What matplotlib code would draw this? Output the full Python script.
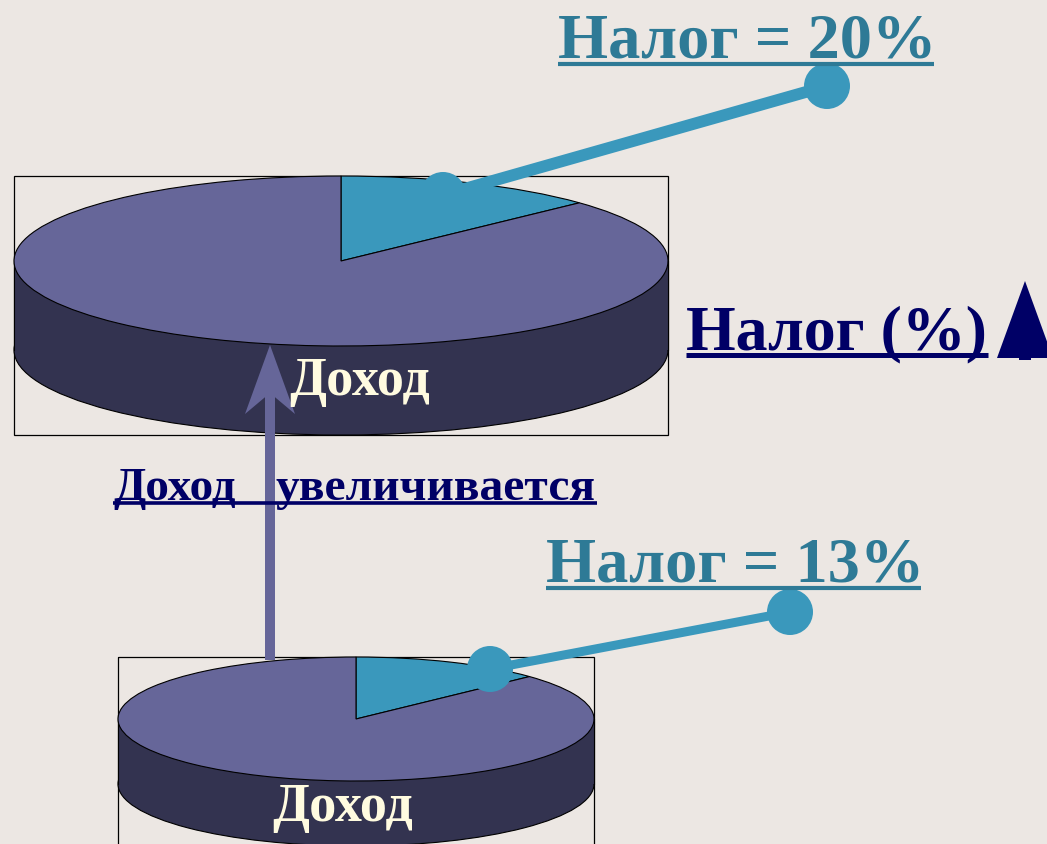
import matplotlib
matplotlib.use("Agg")
from matplotlib import pyplot as plt
from matplotlib.patches import Ellipse, Polygon, Rectangle, Circle

W, H = 1047, 844

# shares of the slice as drawn in both discs
pie_values = [13, 87]
tax_labels = ["Налог = 20%", "Налог = 13%"]
income_label = "Доход"
arrow_labels = ["Доход", "увеличивается"]
axis_label = "Налог (%)"

BG = "#ECE7E3"
PURPLE = "#666699"
DARK = "#333350"
TEAL = "#3A98BC"
TEAL_TEXT = "#2E7A96"
NAVY = "#000066"
CREAM = "#FFFBE0"

plt.rcParams["font.family"] = ["Liberation Serif", "DejaVu Serif"]


def pixel_axes(fig, zorder):
    ax = fig.add_axes([0, 0, 1, 1], zorder=zorder)
    ax.set_xlim(0, W)
    ax.set_ylim(H, 0)
    ax.axis("off")
    ax.patch.set_alpha(0)
    return ax


def draw_disc(fig, back, box, cx, cy, rx, ry, depth):
    """box - (left, top, right, bottom) of the thin frame, the rest is the disc in pixels"""
    back.add_patch(Rectangle((box[0], box[1]), box[2] - box[0], box[3] - box[1],
                             facecolor="none", edgecolor="black", lw=0.9, clip_on=True))
    # the side of the disc
    back.add_patch(Ellipse((cx, cy + depth), 2 * rx, 2 * ry, facecolor=DARK, edgecolor="black", lw=0.8))
    back.add_patch(Rectangle((cx - rx, cy), 2 * rx, depth, facecolor=DARK, edgecolor="none"))
    back.plot([cx - rx, cx - rx], [cy, cy + depth], color="black", lw=0.8)
    back.plot([cx + rx, cx + rx], [cy, cy + depth], color="black", lw=0.8)
    # top of the disc is a real pie, squeezed by its axes
    pie_ax = fig.add_axes([(cx - rx) / W, 1 - (cy + ry) / H, 2 * rx / W, 2 * ry / H], zorder=2)
    pie_ax.pie(pie_values, colors=[TEAL, PURPLE], startangle=90, counterclock=False, radius=1,
               wedgeprops={"edgecolor": "black", "linewidth": 0.8})
    pie_ax.set_aspect("auto")
    pie_ax.set_xlim(-1, 1)
    pie_ax.set_ylim(-1, 1)
    pie_ax.patch.set_alpha(0)
    for w in pie_ax.patches:
        w.set_clip_on(False)


def underlined(ax, x0, x1, y_base, text, size, color, y_line, lw):
    ax.text(x0, y_base, text, fontsize=size, fontweight="bold", color=color, ha="left", va="baseline")
    ax.plot([x0, x1], [y_line, y_line], color=color, lw=lw, solid_capstyle="butt")


def leader(ax, x0, y0, x1, y1, lw):
    ax.plot([x0, x1], [y0, y1], color=TEAL, lw=lw, solid_capstyle="butt")
    ax.add_patch(Circle((x0, y0), 23, color=TEAL, lw=0))
    ax.add_patch(Circle((x1, y1), 23, color=TEAL, lw=0))


fig = plt.figure(figsize=(W / 100, H / 100), dpi=100, facecolor=BG)
back = pixel_axes(fig, 1)
front = pixel_axes(fig, 3)

draw_disc(fig, back, (14, 176, 668, 435), 341, 261, 327, 85, 89)
draw_disc(fig, back, (118, 657, 594, 900), 356, 719, 238, 62, 65)

leader(front, 443, 195, 827, 86, 8.5)
leader(front, 490, 669, 790, 612, 6.5)

underlined(front, 558, 934, 57, tax_labels[0], 46.4, TEAL_TEXT, 64, 3)
underlined(front, 546, 921, 581, tax_labels[1], 46.4, TEAL_TEXT, 588, 3)
underlined(front, 686, 988, 349, axis_label, 46, NAVY, 355, 3.6)
underlined(front, 113, 597, 500, arrow_labels[0], 34, NAVY, 503, 2.6)
front.text(276, 500, arrow_labels[1], fontsize=34.2, fontweight="bold", color=NAVY, ha="left", va="baseline")

front.text(289, 395, income_label, fontsize=39, fontweight="bold", color=CREAM, ha="left", va="baseline")
front.text(272, 821, income_label, fontsize=39, fontweight="bold", color=CREAM, ha="left", va="baseline")

# arrow from the small disc to the big one
front.add_patch(Rectangle((265, 385), 10, 275, facecolor=PURPLE, edgecolor="none"))
front.add_patch(Polygon([(270, 345), (295, 414), (270, 393), (245, 414)], closed=True,
                        facecolor=PURPLE, edgecolor="none"))

# up arrow next to the axis label
front.add_patch(Polygon([(1025, 281), (1053, 358), (997, 358)], closed=True, facecolor=NAVY, edgecolor="none"))
front.add_patch(Rectangle((1019, 358), 12, 2, facecolor=NAVY, edgecolor="none"))

fig.savefig("out.png", dpi=100, facecolor=BG)
plt.close(fig)
